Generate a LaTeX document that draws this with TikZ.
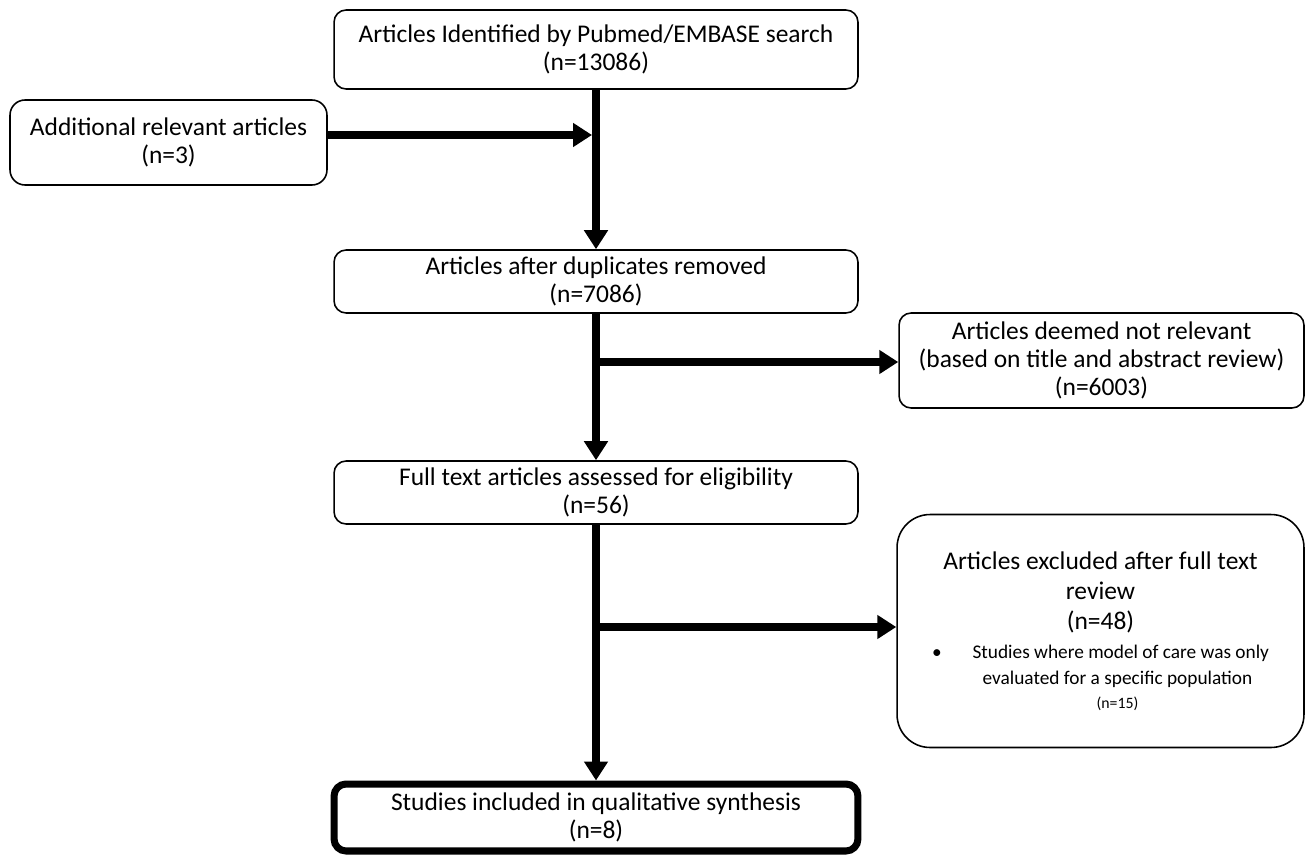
\documentclass[tikz,border=0pt]{standalone}
\usepackage{fontspec}
\setmainfont{Carlito}
\usetikzlibrary{arrows.meta, positioning, calc}

\begin{document}
\begin{tikzpicture}[
    x=0.02cm, y=-0.02cm,
    box/.style={rectangle, rounded corners=0.24cm, draw=black,
                line width=0.9pt, fill=white, align=center, inner sep=0pt,
                font=\fontsize{14.5}{16}\selectfont},
    finalbox/.style={box, line width=4pt},
    flow/.style={-{Triangle[length=0.38cm, width=0.46cm]}, line width=4.5pt}
  ]
    \useasboundingbox (0,0) rectangle (1311,865);
    % Main column of boxes
    \node[box, minimum width=10.48cm, minimum height=1.58cm] (search) at (596,49.5)
      {Articles Identified by Pubmed/EMBASE search\\(n=13086)};
    \node[box, minimum width=10.48cm, minimum height=1.26cm] (dedup) at (596,281.5)
      {Articles after duplicates removed\\(n=7086)};
    \node[box, minimum width=10.48cm, minimum height=1.26cm] (fulltext) at (596,492.5)
      {Full text articles assessed for eligibility\\(n=56)};
    \node[finalbox, minimum width=10.48cm, minimum height=1.34cm] (included) at (596,817.5)
      {Studies included in qualitative synthesis\\(n=8)};
    % Side boxes
    \node[box, rounded corners=0.3cm, minimum width=6.34cm, minimum height=1.7cm]
      (extra) at (168.5,142.5) {Additional relevant articles\\(n=3)};
    \node[box, minimum width=8.1cm, minimum height=1.9cm] (notrel) at (1101.5,360.5)
      {Articles deemed not relevant\\(based on title and abstract review)\\(n=6003)};
    \node[box, rounded corners=0.66cm, minimum width=8.14cm, minimum height=4.66cm,
          font=\fontsize{14.5}{16.5}\selectfont] (excluded) at (1100.5,631)
      {Articles excluded after full text\\[0.5pt]review\\[1pt](n=48)\\
       {\fontsize{11}{13}\selectfont\textbullet\hspace{0.62cm}Studies where model of care was only}\\[-2pt]
       {\fontsize{11}{13}\selectfont\hspace*{0.68cm}evaluated for a specific population}\\[-3pt]
       {\fontsize{9}{10.5}\selectfont\hspace*{0.68cm}(n=15)}};
    % Junction points on the main line
    \coordinate (merge) at (596,135);
    \coordinate (split1) at (596,362);
    \coordinate (split2) at (596,627);
    % Arrows
    \draw[flow] (search) -- (dedup);
    \draw[flow] (dedup) -- (fulltext);
    \draw[flow] (fulltext) -- (included);
    \draw[flow, shorten >=0.08cm] (extra.east |- merge) -- (merge);
    \draw[flow] (split1) -- (split1 -| notrel.west);
    \draw[flow] (split2) -- (split2 -| excluded.west);
  \end{tikzpicture}
\end{document}
